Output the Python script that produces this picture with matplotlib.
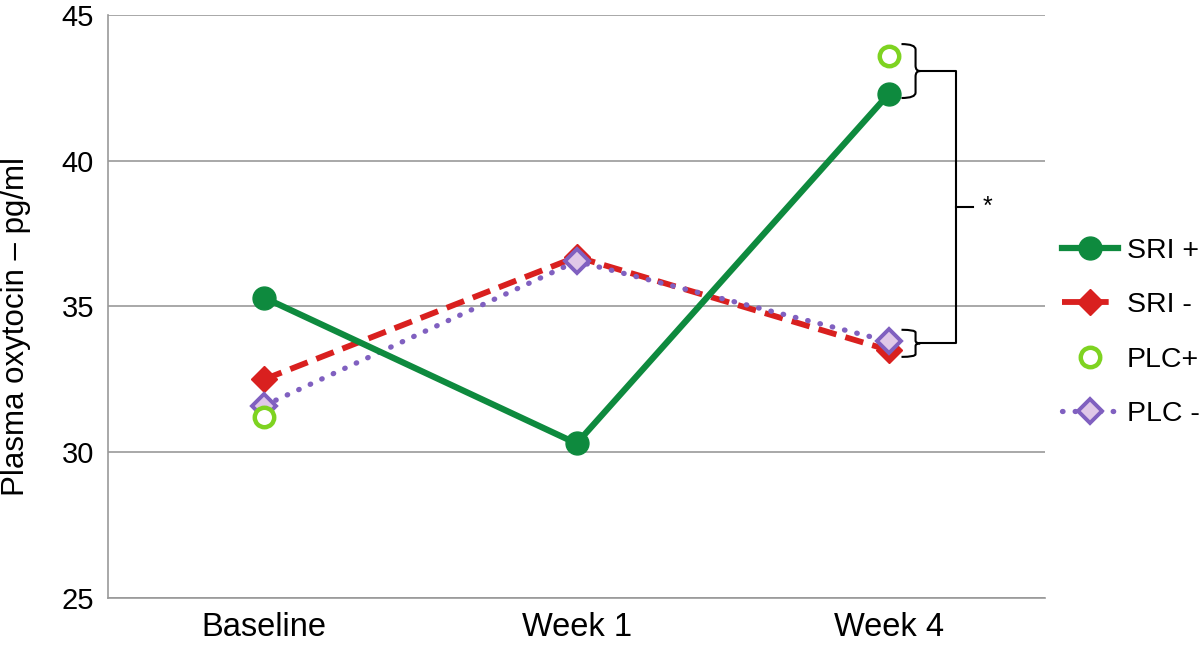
import matplotlib.pyplot as plt
from matplotlib.path import Path
from matplotlib.patches import PathPatch
import numpy as np

plt.rcParams['font.family'] = ['Liberation Sans', 'DejaVu Sans']

categories = ["Baseline", "Week 1", "Week 4"]
sri_pos = [35.3, 30.3, 42.3]
sri_neg = [32.5, 36.7, 33.5]
plc_pos = [31.2, np.nan, 43.6]
plc_neg = [31.6, 36.55, 33.8]

x = np.arange(len(categories))

fig = plt.figure(figsize=(12, 6.49), dpi=100)
ax = fig.add_axes([0.09, 0.0786, 0.781, 0.8984])

ax.plot(x, sri_neg, color="#d9201f", lw=4.2, ls=(0, (3.2, 1.6)), marker="D",
        ms=13, mfc="#d9201f", mec="#d9201f", label="SRI -", zorder=3)
ax.plot(x, plc_neg, color="#8060c0", lw=3.8, ls=(0, (0.1, 2.3)), dash_capstyle="round",
        marker="D", ms=12, mfc="#e0c8e8", mec="#8060c0", mew=2.8, label="PLC -", zorder=4)
ax.plot(x, sri_pos, color="#0e8a3e", lw=4.5, marker="o", ms=16.5,
        label="SRI +", zorder=5)
ax.plot(x, plc_pos, ls="none", marker="o", ms=14, mfc="white", mec="#7ed321",
        mew=3.2, label="PLC+", zorder=6)

ax.set_xlim(-0.5, 2.5)
ax.set_ylim(25, 45)
ax.set_yticks([25, 30, 35, 40, 45])
ax.set_xticks(x)
ax.set_xticklabels(categories)
ax.tick_params(axis="x", length=0, labelsize=23.5, pad=10)
ax.tick_params(axis="y", length=0, labelsize=21, pad=10)
ax.set_ylabel("Plasma oxytocin \u2013 pg/ml", fontsize=22.5)
ax.yaxis.set_label_coords(-0.082, 0.465)
ax.yaxis.grid(True, color="#999999", lw=1.2)
ax.set_axisbelow(True)
for s in ["top", "right"]:
    ax.spines[s].set_visible(False)
for s in ["left", "bottom"]:
    ax.spines[s].set_color("#999999")
    ax.spines[s].set_linewidth(1.2)


def brace(ax, x0, y0, y1, w):
    # curly brace opening to the left, tip pointing right
    ym = (y0 + y1) / 2
    xc = x0 + w * 0.75
    p = Path([(x0, y0), (xc, y0), (xc, y0 - (y0 - ym) * 0.2),
              (xc, ym + (y0 - ym) * 0.2), (xc, ym), (x0 + w, ym),
              (xc, ym), (xc, ym - (ym - y1) * 0.2),
              (xc, y1 + (ym - y1) * 0.2), (xc, y1), (x0, y1)],
             [Path.MOVETO, Path.CURVE3, Path.CURVE3,
              Path.LINETO, Path.CURVE3, Path.CURVE3,
              Path.CURVE3, Path.CURVE3,
              Path.LINETO, Path.CURVE3, Path.CURVE3])
    ax.add_patch(PathPatch(p, fc="none", ec="black", lw=1.5, clip_on=False))
    return x0 + w, ym


bx1, by1 = brace(ax, 2.04, 44.0, 42.15, 0.06)
bx2, by2 = brace(ax, 2.04, 34.2, 33.27, 0.06)
ax.plot([bx1, 2.215, 2.215, bx2], [by1, by1, by2, by2], color="black", lw=1.5,
        clip_on=False)
ax.plot([2.215, 2.27], [38.4, 38.4], color="black", lw=1.5, clip_on=False)
ax.text(2.3, 38.4, "*", fontsize=18, va="center", ha="left")

handles, labels = ax.get_legend_handles_labels()
order = [2, 0, 3, 1]
ax.legend([handles[i] for i in order], [labels[i] for i in order],
          loc="center left", bbox_to_anchor=(1.0, 0.455), frameon=False,
          fontsize=20.5, handlelength=1.95, labelspacing=1.0, handletextpad=0.32,
          borderaxespad=0.2)

fig.savefig("out.png", dpi=100)
